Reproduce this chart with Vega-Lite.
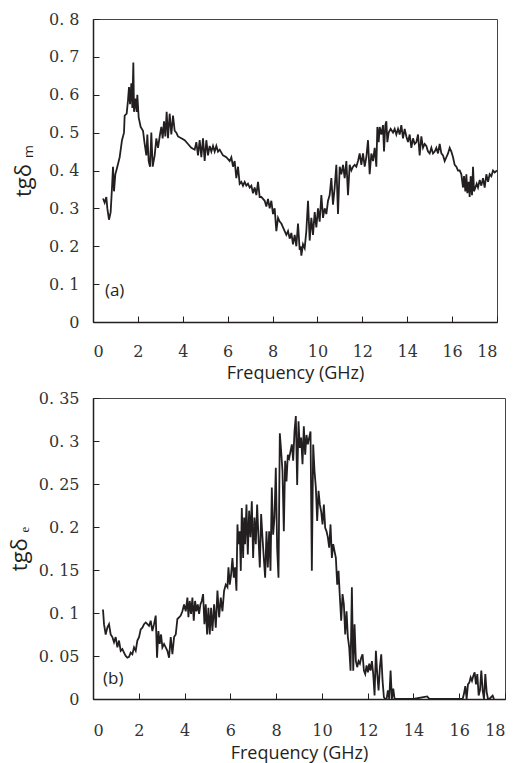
{
  "$schema": "https://vega.github.io/schema/vega-lite/v6.json",
  "background": "white",
  "padding": {"left": 7, "top": 10, "right": 10, "bottom": 4},
  "spacing": 76,
  "bounds": "flush",
  "config": {
    "view": {"stroke": "#444444", "strokeWidth": 1},
    "axis": {
      "grid": false,
      "domainColor": "#231f20",
      "domainWidth": 1.5,
      "tickColor": "#231f20",
      "tickWidth": 1,
      "tickSize": -6,
      "labelOverlap": false,
      "labelFont": "DejaVu Serif",
      "labelFontSize": 16,
      "labelColor": "#333333",
      "titleFont": "Open Sans",
      "titleFontWeight": "normal",
      "titleColor": "#231f20"
    }
  },
  "datasets": {
    "a": [
      {"f":0.446,"v":0.326},{"f":0.52,"v":0.315},{"f":0.594,"v":0.33},{"f":0.639,"v":0.30},{"f":0.713,"v":0.27},{"f":0.787,"v":0.29},{"f":0.847,"v":0.355},{"f":0.891,"v":0.41},{"f":0.936,"v":0.345},{"f":0.995,"v":0.39},
      {"f":1.084,"v":0.41},{"f":1.188,"v":0.435},{"f":1.292,"v":0.48},{"f":1.381,"v":0.5},{"f":1.411,"v":0.545},{"f":1.5,"v":0.55},{"f":1.559,"v":0.585},{"f":1.604,"v":0.62},{"f":1.649,"v":0.575},{"f":1.708,"v":0.63},
      {"f":1.753,"v":0.565},{"f":1.797,"v":0.685},{"f":1.827,"v":0.555},{"f":1.886,"v":0.59},{"f":1.946,"v":0.555},{"f":1.975,"v":0.60},{"f":2.035,"v":0.54},{"f":2.124,"v":0.515},{"f":2.228,"v":0.505},{"f":2.302,"v":0.47},
      {"f":2.376,"v":0.44},{"f":2.421,"v":0.495},{"f":2.48,"v":0.425},{"f":2.54,"v":0.41},{"f":2.599,"v":0.5},{"f":2.659,"v":0.41},{"f":2.748,"v":0.44},{"f":2.822,"v":0.485},{"f":2.896,"v":0.46},{"f":2.985,"v":0.495},
      {"f":3.045,"v":0.515},{"f":3.104,"v":0.485},{"f":3.164,"v":0.53},{"f":3.223,"v":0.49},{"f":3.282,"v":0.555},{"f":3.342,"v":0.485},{"f":3.416,"v":0.55},{"f":3.49,"v":0.495},{"f":3.565,"v":0.545},{"f":3.639,"v":0.505},
      {"f":3.713,"v":0.5},{"f":3.787,"v":0.49},{"f":3.936,"v":0.485},{"f":4.084,"v":0.48},{"f":4.233,"v":0.47},{"f":4.381,"v":0.46},{"f":4.53,"v":0.455},{"f":4.604,"v":0.475},{"f":4.678,"v":0.44},{"f":4.753,"v":0.48},
      {"f":4.827,"v":0.435},{"f":4.901,"v":0.485},{"f":4.975,"v":0.425},{"f":5.05,"v":0.48},{"f":5.124,"v":0.44},{"f":5.198,"v":0.465},{"f":5.273,"v":0.45},{"f":5.347,"v":0.465},{"f":5.421,"v":0.45},{"f":5.495,"v":0.465},
      {"f":5.57,"v":0.45},{"f":5.644,"v":0.455},{"f":5.792,"v":0.44},{"f":5.941,"v":0.435},{"f":6.089,"v":0.425},{"f":6.164,"v":0.435},{"f":6.238,"v":0.41},{"f":6.312,"v":0.425},{"f":6.386,"v":0.38},{"f":6.461,"v":0.41},
      {"f":6.535,"v":0.365},{"f":6.609,"v":0.37},{"f":6.683,"v":0.36},{"f":6.758,"v":0.37},{"f":6.832,"v":0.36},{"f":6.906,"v":0.365},{"f":6.981,"v":0.355},{"f":7.055,"v":0.36},{"f":7.129,"v":0.34},{"f":7.203,"v":0.355},
      {"f":7.278,"v":0.335},{"f":7.352,"v":0.37},{"f":7.426,"v":0.33},{"f":7.5,"v":0.33},{"f":7.575,"v":0.325},{"f":7.649,"v":0.32},{"f":7.723,"v":0.305},{"f":7.797,"v":0.325},{"f":7.872,"v":0.30},{"f":7.946,"v":0.32},
      {"f":8.02,"v":0.285},{"f":8.094,"v":0.30},{"f":8.169,"v":0.24},{"f":8.243,"v":0.275},{"f":8.317,"v":0.265},{"f":8.392,"v":0.26},{"f":8.466,"v":0.25},{"f":8.54,"v":0.24},{"f":8.614,"v":0.23},{"f":8.689,"v":0.24},
      {"f":8.763,"v":0.22},{"f":8.837,"v":0.235},{"f":8.911,"v":0.205},{"f":8.986,"v":0.23},{"f":9.06,"v":0.20},{"f":9.134,"v":0.26},{"f":9.208,"v":0.19},{"f":9.253,"v":0.20},{"f":9.283,"v":0.175},{"f":9.357,"v":0.205},
      {"f":9.431,"v":0.195},{"f":9.505,"v":0.24},{"f":9.58,"v":0.32},{"f":9.654,"v":0.215},{"f":9.728,"v":0.275},{"f":9.802,"v":0.23},{"f":9.877,"v":0.29},{"f":9.951,"v":0.25},{"f":10.025,"v":0.30},{"f":10.099,"v":0.265},
      {"f":10.174,"v":0.335},{"f":10.248,"v":0.275},{"f":10.322,"v":0.30},{"f":10.397,"v":0.285},{"f":10.471,"v":0.32},{"f":10.545,"v":0.335},{"f":10.619,"v":0.38},{"f":10.694,"v":0.31},{"f":10.768,"v":0.355},{"f":10.842,"v":0.415},
      {"f":10.916,"v":0.285},{"f":10.991,"v":0.41},{"f":11.065,"v":0.39},{"f":11.139,"v":0.415},{"f":11.213,"v":0.38},{"f":11.288,"v":0.425},{"f":11.362,"v":0.335},{"f":11.436,"v":0.415},{"f":11.511,"v":0.40},{"f":11.585,"v":0.41},
      {"f":11.659,"v":0.415},{"f":11.733,"v":0.41},{"f":11.808,"v":0.425},{"f":11.882,"v":0.445},{"f":11.956,"v":0.415},{"f":12.03,"v":0.445},{"f":12.105,"v":0.41},{"f":12.179,"v":0.435},{"f":12.253,"v":0.48},{"f":12.327,"v":0.39},
      {"f":12.402,"v":0.445},{"f":12.476,"v":0.425},{"f":12.55,"v":0.46},{"f":12.624,"v":0.41},{"f":12.669,"v":0.515},{"f":12.728,"v":0.475},{"f":12.773,"v":0.515},{"f":12.847,"v":0.495},{"f":12.921,"v":0.52},{"f":12.966,"v":0.45},
      {"f":13.025,"v":0.52},{"f":13.07,"v":0.53},{"f":13.114,"v":0.475},{"f":13.174,"v":0.50},{"f":13.263,"v":0.51},{"f":13.367,"v":0.50},{"f":13.441,"v":0.51},{"f":13.515,"v":0.495},{"f":13.59,"v":0.51},{"f":13.664,"v":0.495},
      {"f":13.738,"v":0.52},{"f":13.813,"v":0.485},{"f":13.887,"v":0.51},{"f":13.961,"v":0.49},{"f":14.035,"v":0.475},{"f":14.11,"v":0.495},{"f":14.184,"v":0.46},{"f":14.258,"v":0.485},{"f":14.332,"v":0.47},{"f":14.407,"v":0.475},
      {"f":14.481,"v":0.495},{"f":14.555,"v":0.44},{"f":14.629,"v":0.49},{"f":14.704,"v":0.46},{"f":14.778,"v":0.47},{"f":14.852,"v":0.465},{"f":14.927,"v":0.45},{"f":15.001,"v":0.445},{"f":15.075,"v":0.46},{"f":15.149,"v":0.445},
      {"f":15.224,"v":0.45},{"f":15.298,"v":0.46},{"f":15.372,"v":0.445},{"f":15.446,"v":0.47},{"f":15.521,"v":0.445},{"f":15.595,"v":0.44},{"f":15.669,"v":0.425},{"f":15.744,"v":0.435},{"f":15.818,"v":0.445},{"f":15.892,"v":0.46},
      {"f":15.966,"v":0.45},{"f":16.041,"v":0.435},{"f":16.115,"v":0.415},{"f":16.189,"v":0.41},{"f":16.263,"v":0.40},{"f":16.338,"v":0.40},{"f":16.412,"v":0.39},{"f":16.486,"v":0.355},{"f":16.531,"v":0.385},{"f":16.59,"v":0.345},
      {"f":16.635,"v":0.39},{"f":16.679,"v":0.34},{"f":16.739,"v":0.37},{"f":16.783,"v":0.33},{"f":16.828,"v":0.385},{"f":16.887,"v":0.335},{"f":16.932,"v":0.41},{"f":16.976,"v":0.345},{"f":17.036,"v":0.355},{"f":17.095,"v":0.365},
      {"f":17.154,"v":0.355},{"f":17.229,"v":0.375},{"f":17.303,"v":0.36},{"f":17.377,"v":0.38},{"f":17.451,"v":0.355},{"f":17.526,"v":0.39},{"f":17.6,"v":0.37},{"f":17.674,"v":0.39},{"f":17.748,"v":0.385},{"f":17.823,"v":0.40},
      {"f":17.897,"v":0.395},{"f":18.0,"v":0.40}
    ],
    "b": [
      {"f":0.437,"v":0.104},{"f":0.481,"v":0.087},{"f":0.554,"v":0.075},{"f":0.627,"v":0.083},{"f":0.7,"v":0.087},{"f":0.772,"v":0.075},{"f":0.845,"v":0.072},{"f":0.918,"v":0.066},{"f":0.991,"v":0.072},{"f":1.064,"v":0.06},
      {"f":1.137,"v":0.068},{"f":1.21,"v":0.056},{"f":1.283,"v":0.058},{"f":1.355,"v":0.054},{"f":1.428,"v":0.05},{"f":1.501,"v":0.048},{"f":1.574,"v":0.049},{"f":1.647,"v":0.054},{"f":1.72,"v":0.052},{"f":1.793,"v":0.06},
      {"f":1.866,"v":0.056},{"f":1.938,"v":0.068},{"f":2.011,"v":0.072},{"f":2.084,"v":0.081},{"f":2.157,"v":0.083},{"f":2.23,"v":0.087},{"f":2.303,"v":0.089},{"f":2.376,"v":0.087},{"f":2.449,"v":0.085},{"f":2.521,"v":0.091},
      {"f":2.594,"v":0.079},{"f":2.667,"v":0.087},{"f":2.74,"v":0.097},{"f":2.798,"v":0.048},{"f":2.857,"v":0.079},{"f":2.915,"v":0.064},{"f":2.973,"v":0.075},{"f":3.032,"v":0.06},{"f":3.104,"v":0.064},{"f":3.177,"v":0.06},
      {"f":3.25,"v":0.056},{"f":3.323,"v":0.048},{"f":3.396,"v":0.072},{"f":3.469,"v":0.052},{"f":3.542,"v":0.072},{"f":3.615,"v":0.075},{"f":3.687,"v":0.093},{"f":3.76,"v":0.095},{"f":3.833,"v":0.097},{"f":3.906,"v":0.102},
      {"f":3.979,"v":0.11},{"f":4.052,"v":0.102},{"f":4.125,"v":0.118},{"f":4.168,"v":0.095},{"f":4.227,"v":0.114},{"f":4.285,"v":0.099},{"f":4.343,"v":0.118},{"f":4.402,"v":0.091},{"f":4.46,"v":0.114},{"f":4.518,"v":0.102},
      {"f":4.577,"v":0.11},{"f":4.635,"v":0.099},{"f":4.693,"v":0.11},{"f":4.751,"v":0.114},{"f":4.81,"v":0.122},{"f":4.868,"v":0.087},{"f":4.926,"v":0.11},{"f":4.985,"v":0.075},{"f":5.043,"v":0.106},{"f":5.101,"v":0.075},
      {"f":5.16,"v":0.106},{"f":5.218,"v":0.079},{"f":5.291,"v":0.11},{"f":5.364,"v":0.083},{"f":5.437,"v":0.126},{"f":5.51,"v":0.095},{"f":5.583,"v":0.118},{"f":5.655,"v":0.102},{"f":5.728,"v":0.126},{"f":5.801,"v":0.133},
      {"f":5.874,"v":0.13},{"f":5.918,"v":0.153},{"f":5.976,"v":0.133},{"f":6.034,"v":0.145},{"f":6.092,"v":0.164},{"f":6.151,"v":0.141},{"f":6.209,"v":0.153},{"f":6.267,"v":0.126},{"f":6.311,"v":0.203},{"f":6.355,"v":0.18},
      {"f":6.413,"v":0.195},{"f":6.457,"v":0.149},{"f":6.501,"v":0.222},{"f":6.559,"v":0.164},{"f":6.603,"v":0.211},{"f":6.646,"v":0.18},{"f":6.705,"v":0.226},{"f":6.763,"v":0.168},{"f":6.821,"v":0.219},{"f":6.879,"v":0.188},
      {"f":6.938,"v":0.23},{"f":6.996,"v":0.164},{"f":7.054,"v":0.211},{"f":7.113,"v":0.18},{"f":7.171,"v":0.226},{"f":7.229,"v":0.188},{"f":7.288,"v":0.153},{"f":7.346,"v":0.215},{"f":7.404,"v":0.188},{"f":7.462,"v":0.164},
      {"f":7.521,"v":0.141},{"f":7.579,"v":0.195},{"f":7.637,"v":0.153},{"f":7.696,"v":0.195},{"f":7.754,"v":0.149},{"f":7.812,"v":0.246},{"f":7.87,"v":0.191},{"f":7.929,"v":0.211},{"f":7.987,"v":0.269},{"f":8.045,"v":0.176},
      {"f":8.104,"v":0.141},{"f":8.162,"v":0.309},{"f":8.22,"v":0.288},{"f":8.279,"v":0.265},{"f":8.337,"v":0.195},{"f":8.395,"v":0.277},{"f":8.453,"v":0.253},{"f":8.512,"v":0.284},{"f":8.57,"v":0.28},{"f":8.628,"v":0.288},
      {"f":8.687,"v":0.296},{"f":8.745,"v":0.277},{"f":8.803,"v":0.311},{"f":8.862,"v":0.329},{"f":8.92,"v":0.249},{"f":8.978,"v":0.323},{"f":9.036,"v":0.292},{"f":9.095,"v":0.304},{"f":9.153,"v":0.273},{"f":9.211,"v":0.317},
      {"f":9.27,"v":0.284},{"f":9.328,"v":0.307},{"f":9.386,"v":0.296},{"f":9.445,"v":0.304},{"f":9.503,"v":0.311},{"f":9.561,"v":0.149},{"f":9.62,"v":0.296},{"f":9.678,"v":0.265},{"f":9.736,"v":0.246},{"f":9.794,"v":0.207},
      {"f":9.853,"v":0.242},{"f":9.911,"v":0.226},{"f":9.969,"v":0.218},{"f":10.028,"v":0.203},{"f":10.086,"v":0.226},{"f":10.144,"v":0.199},{"f":10.203,"v":0.195},{"f":10.261,"v":0.188},{"f":10.319,"v":0.176},{"f":10.377,"v":0.203},
      {"f":10.436,"v":0.164},{"f":10.494,"v":0.18},{"f":10.552,"v":0.172},{"f":10.611,"v":0.164},{"f":10.669,"v":0.133},{"f":10.727,"v":0.149},{"f":10.786,"v":0.118},{"f":10.844,"v":0.091},{"f":10.902,"v":0.122},{"f":10.96,"v":0.11},
      {"f":11.019,"v":0.075},{"f":11.077,"v":0.102},{"f":11.135,"v":0.072},{"f":11.194,"v":0.06},{"f":11.252,"v":0.033},{"f":11.31,"v":0.13},{"f":11.369,"v":0.033},{"f":11.427,"v":0.087},{"f":11.485,"v":0.044},{"f":11.543,"v":0.037},
      {"f":11.602,"v":0.044},{"f":11.66,"v":0.041},{"f":11.718,"v":0.048},{"f":11.777,"v":0.052},{"f":11.835,"v":0.033},{"f":11.893,"v":0.029},{"f":11.952,"v":0.039},{"f":12.01,"v":0.031},{"f":12.068,"v":0.041},{"f":12.126,"v":0.033},
      {"f":12.185,"v":0.044},{"f":12.243,"v":0.029},{"f":12.301,"v":0.004},{"f":12.36,"v":0.056},{"f":12.418,"v":0.029},{"f":12.476,"v":0.01},{"f":12.535,"v":0.037},{"f":12.593,"v":0.052},{"f":12.651,"v":0.021},{"f":12.709,"v":0.002},
      {"f":12.768,"v":0},{"f":12.826,"v":0},{"f":12.884,"v":0.01},{"f":12.943,"v":0},{"f":13.001,"v":0.033},{"f":13.059,"v":0},{"f":13.118,"v":0.012},{"f":13.176,"v":0},{"f":13.6,"v":0},{"f":14.0,"v":0},
      {"f":14.6,"v":0.003},{"f":14.7,"v":0},{"f":15.2,"v":0},{"f":15.8,"v":0},{"f":16.149,"v":0},{"f":16.207,"v":0.006},{"f":16.266,"v":0.015},{"f":16.324,"v":0},{"f":16.382,"v":0.017},{"f":16.441,"v":0.019},
      {"f":16.499,"v":0.025},{"f":16.557,"v":0.021},{"f":16.616,"v":0.027},{"f":16.674,"v":0.031},{"f":16.732,"v":0.017},{"f":16.79,"v":0.029},{"f":16.849,"v":0.004},{"f":16.907,"v":0.01},{"f":16.965,"v":0.033},{"f":17.024,"v":0.01},
      {"f":17.082,"v":0},{"f":17.14,"v":0.029},{"f":17.199,"v":0.008},{"f":17.257,"v":0},{"f":17.315,"v":0},{"f":17.461,"v":0.004},{"f":17.519,"v":0}
    ],
    "labels": [
      {"panel":"a","f":0.53,"v":0.082,"t":"(a)"},
      {"panel":"b","f":0.44,"v":0.023,"t":"(b)"}
    ]
  },
  "vconcat": [
    {
      "width": 404,
      "height": 303,
      "encoding": {
        "x": {"field": "f", "type": "quantitative", "scale": {"domain": [0, 18], "nice": false},
              "axis": {"values": [0,2,4,6,8,10,12,14,16,18], "labelOverlap": false, "title": "Frequency (GHz)", "titleFontSize": 18, "labelPadding": 27, "titlePadding": 5}},
        "y": {"field": "v", "type": "quantitative", "scale": {"domain": [0, 0.8], "nice": false},
              "axis": {"values": [0,0.1,0.2,0.3,0.4,0.5,0.6,0.7,0.8], "labelOverlap": false, "labelExpr": "replace(format(datum.value, '.1~f'), '.', '. ')", "title": "tgδ ₘ", "titleFontSize": 22, "labelPadding": 20, "titlePadding": 13}}
      },
      "layer": [
        {
          "data": {"name": "a"},
          "mark": {"type": "line", "color": "#231f20", "strokeWidth": 1.8}
        },
        {
          "data": {"name": "labels"},
          "transform": [{"filter": "datum.panel == 'a'"}],
          "mark": {"type": "text", "align": "left", "baseline": "middle", "font": "Open Sans", "fontSize": 17, "color": "#231f20"},
          "encoding": {"text": {"field": "t"}}
        }
      ]
    },
    {
      "width": 412,
      "height": 301,
      "encoding": {
        "x": {"field": "f", "type": "quantitative", "scale": {"domain": [0, 18], "nice": false},
              "axis": {"values": [0,2,4,6,8,10,12,14,16,18], "labelOverlap": false, "title": "Frequency (GHz)", "titleFontSize": 18, "labelPadding": 29, "titlePadding": 6}},
        "y": {"field": "v", "type": "quantitative", "scale": {"domain": [0, 0.35], "nice": false},
              "axis": {"values": [0,0.05,0.1,0.15,0.2,0.25,0.3,0.35], "labelOverlap": false, "labelExpr": "replace(format(datum.value, '.2~f'), '.', '. ')", "title": "tgδ ₑ", "titleFontSize": 22, "labelPadding": 20, "titlePadding": 7}}
      },
      "layer": [
        {
          "data": {"name": "b"},
          "mark": {"type": "line", "color": "#231f20", "strokeWidth": 1.8}
        },
        {
          "data": {"name": "labels"},
          "transform": [{"filter": "datum.panel == 'b'"}],
          "mark": {"type": "text", "align": "left", "baseline": "middle", "font": "Open Sans", "fontSize": 17, "color": "#231f20"},
          "encoding": {"text": {"field": "t"}}
        }
      ]
    }
  ]
}
